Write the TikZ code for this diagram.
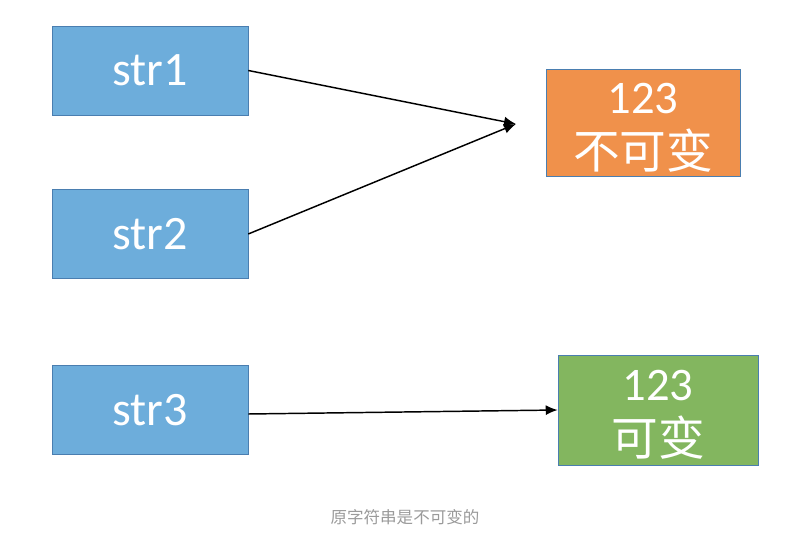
\documentclass[tikz,border=0pt]{standalone}
\usepackage{fontspec}
\setmainfont{Carlito}
\newfontfamily\cjk{Noto Sans CJK SC}
\usepackage{tikz}
\usetikzlibrary{arrows.meta}
\definecolor{RefBlue}{HTML}{6DADDB}
\definecolor{RefBlueLine}{HTML}{4A7EB0}
\definecolor{RefOrange}{HTML}{F0914B}
\definecolor{RefGreen}{HTML}{83B65F}
\definecolor{RefCaption}{HTML}{9A9A9A}
\newcommand{\twolines}[2]{\raisebox{-6pt}[\height][\depth]{\begin{tabular}{@{}c@{}}#1\\{\cjk #2}\end{tabular}}}

\begin{document}
\begin{tikzpicture}[x=0.75pt, y=-0.75pt,
  varbox/.style={draw=RefBlueLine, fill=RefBlue, text=white,
    minimum width=147pt, minimum height=66.75pt, inner sep=0pt,
    font=\fontsize{36}{40}\selectfont},
  valbox/.style={draw=RefBlueLine, text=white, inner sep=0pt,
    font=\fontsize{35}{38}\selectfont},
  ref/.style={-{Latex[length=9pt,width=7.5pt]}, black, line width=1.1pt}]
  \useasboundingbox (0,0) rectangle (794,535);
  \node[varbox] (s1) at (150,70.5) {str1};
  \node[varbox] (s2) at (150,234) {str2};
  \node[varbox] (s3) at (150,410) {str3};
  \node[valbox, fill=RefOrange, minimum width=145.5pt, minimum height=80.25pt]
    (fixed) at (643,122.5) {\twolines{123}{不可变}};
  \node[valbox, fill=RefGreen, minimum width=150pt, minimum height=82.5pt]
    (free) at (658,410) {\twolines{123}{可变}};
  \coordinate (meet) at (516,124);
  \draw[ref] (s1.east) -- (meet);
  \draw[ref] (s2.east) -- (meet);
  \draw[ref] ([yshift=-3pt]s3.east) -- (free.west);
  \node[text=RefCaption, font=\cjk\fontsize{12.4}{15}\selectfont] (note) at (405,517) {原字符串是不可变的};
\end{tikzpicture}
\end{document}
